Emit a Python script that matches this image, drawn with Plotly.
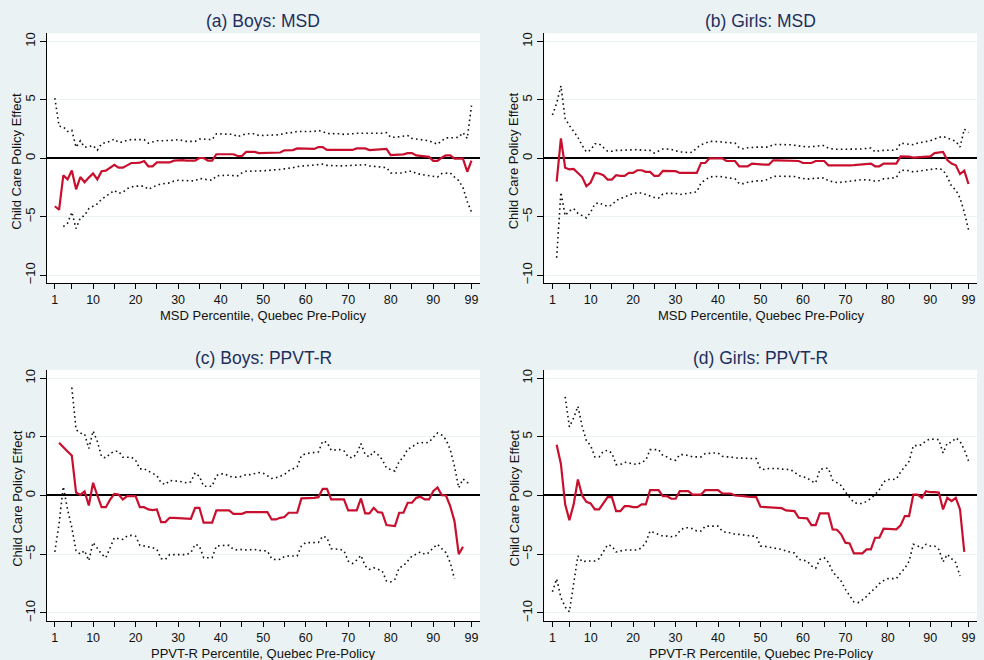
import plotly.graph_objects as go

# Percentile grid (Quebec pre-policy distribution)
PCT = list(range(1, 100))

# (a) Boys: MSD -- estimate, upper and lower confidence bounds
A_EST = [-4.1, -4.4, -1.45, -1.8, -1.05, -2.65, -1.6, -2.05, -1.65, -1.3,
         -1.8, -1.1, -1.05, -0.8, -0.55, -0.8, -0.8, -0.6, -0.4, -0.4,
         -0.37, -0.23, -0.68, -0.68, -0.35, -0.35, -0.35, -0.35, -0.2, -0.15,
         -0.15, -0.2, -0.2, -0.2, 0.03, 0.03, -0.2, -0.2, 0.35, 0.35,
         0.35, 0.35, 0.35, 0.2, 0.2, 0.55, 0.55, 0.55, 0.45, 0.45,
         0.45, 0.5, 0.5, 0.5, 0.68, 0.68, 0.7, 0.85, 0.85, 0.85,
         0.8, 0.8, 0.96, 0.96, 0.72, 0.72, 0.72, 0.72, 0.72, 0.72,
         0.72, 0.85, 0.85, 0.85, 0.7, 0.72, 0.75, 0.78, 0.8, 0.27,
         0.3, 0.32, 0.34, 0.45, 0.45, 0.25, 0.2, 0.15, 0.12, -0.22,
         -0.22, 0.05, 0.25, 0.25, -0.03, -0.03, -0.03, -1.15, -0.2]
A_HI = [5.15, 2.75, 2.7, 2.3, 2.4, 0.95, 1.5, 0.95, 1.0, 1.1,
        0.7, 1.25, 1.35, 1.45, 1.65, 1.35, 1.4, 1.55, 1.6, 1.6,
        1.65, 1.6, 1.3, 1.4, 1.5, 1.5, 1.5, 1.5, 1.55, 1.6,
        1.5, 1.45, 1.45, 1.45, 1.65, 1.65, 1.6, 1.6, 2.1, 2.1,
        2.1, 2.1, 2.05, 1.85, 1.95, 2.1, 2.1, 2.1, 1.95, 1.95,
        1.95, 2.0, 2.0, 2.05, 2.15, 2.2, 2.2, 2.3, 2.3, 2.3,
        2.25, 2.3, 2.38, 2.3, 2.12, 2.12, 2.1, 2.1, 2.05, 2.05,
        2.1, 2.15, 2.15, 2.15, 2.1, 2.15, 2.15, 2.15, 2.2, 1.8,
        1.8, 1.85, 1.9, 1.95, 1.7, 1.65, 1.6, 1.6, 1.5, 1.35,
        1.2, 1.5, 1.75, 1.75, 1.75, 1.8, 2.2, 1.7, 4.5]
A_LO = [None, None, -5.85, -5.55, -4.6, -6.0, -5.1, -4.9, -4.3, -4.1,
        -3.9, -3.5, -3.25, -2.95, -2.75, -3.0, -2.9, -2.6, -2.45, -2.38,
        -2.35, -2.38, -2.65, -2.45, -2.3, -2.2, -2.15, -2.1, -1.95, -1.87,
        -1.9, -1.93, -1.93, -1.93, -1.73, -1.75, -1.85, -1.87, -1.5, -1.45,
        -1.45, -1.45, -1.5, -1.5, -1.25, -1.1, -1.1, -1.1, -1.1, -1.1,
        -1.05, -1.0, -1.0, -0.95, -0.9, -0.88, -0.8, -0.7, -0.68, -0.65,
        -0.62, -0.58, -0.54, -0.5, -0.6, -0.62, -0.65, -0.65, -0.65, -0.62,
        -0.6, -0.55, -0.55, -0.55, -0.65, -0.7, -0.72, -0.75, -0.8, -1.25,
        -1.25, -1.25, -1.25, -1.1, -1.1, -1.3, -1.35, -1.45, -1.5, -1.55,
        -1.6, -1.3, -1.25, -1.25, -1.6, -1.9, -2.5, -3.7, -4.6]

# (b) Girls: MSD
B_EST = [None, -2.0, 1.7, -0.8, -0.95, -0.9, -1.25, -1.6, -2.38, -2.07,
         -1.25, -1.3, -1.45, -1.82, -1.82, -1.45, -1.5, -1.5, -1.25, -1.25,
         -1.02, -1.02, -1.16, -1.16, -1.5, -1.5, -1.08, -1.08, -1.1, -1.1,
         -1.25, -1.25, -1.25, -1.25, -1.25, -0.4, -0.4, 0.0, 0.0, 0.0,
         0.0, -0.23, -0.23, -0.23, -0.68, -0.68, -0.68, -0.45, -0.5, -0.5,
         -0.54, -0.54, -0.17, -0.17, -0.17, -0.2, -0.2, -0.23, -0.23, -0.4,
         -0.4, -0.4, -0.23, -0.23, -0.23, -0.6, -0.6, -0.62, -0.65, -0.65,
         -0.6, -0.58, -0.55, -0.5, -0.47, -0.45, -0.68, -0.68, -0.45, -0.45,
         -0.45, -0.45, 0.17, 0.17, 0.15, 0.06, 0.08, 0.15, 0.17, 0.17,
         0.45, 0.47, 0.55, -0.15, -0.45, -0.6, -1.35, -1.05, -2.2]
B_HI = [3.7, 4.7, 6.2, 3.4, 2.8, 2.3, 1.8, 1.1, 0.55, 0.7,
        1.25, 1.25, 0.95, 0.6, 0.6, 0.68, 0.68, 0.7, 0.75, 0.77,
        0.75, 0.7, 0.68, 0.68, 0.45, 0.65, 0.8, 0.8, 0.77, 0.65,
        0.55, 0.54, 0.48, 0.52, 0.9, 1.15, 1.3, 1.45, 1.45, 1.45,
        1.4, 1.35, 1.3, 1.3, 0.9, 0.82, 0.9, 0.96, 0.96, 0.96,
        0.96, 0.96, 1.19, 1.19, 1.22, 1.2, 1.16, 1.12, 1.08, 1.05,
        0.96, 1.0, 1.05, 1.1, 1.1, 0.85, 0.8, 0.77, 0.77, 0.77,
        0.77, 0.77, 0.77, 0.8, 0.85, 0.88, 0.55, 0.65, 0.68, 0.68,
        0.68, 0.7, 1.3, 1.27, 1.2, 1.16, 1.3, 1.35, 1.4, 1.5,
        1.65, 1.8, 1.87, 1.7, 1.6, 1.45, 0.96, 2.5, 2.2]
B_LO = [None, -8.5, -2.9, -4.9, -4.5, -4.3, -4.7, -4.9, -5.1, -4.6,
        -3.9, -3.8, -4.0, -4.1, -4.0, -3.6, -3.45, -3.3, -3.1, -3.0,
        -2.95, -2.97, -3.1, -3.25, -3.35, -3.4, -3.05, -3.0, -3.0, -3.0,
        -3.1, -3.05, -2.95, -2.92, -2.87, -2.1, -1.87, -1.6, -1.55, -1.53,
        -1.57, -1.65, -1.73, -1.75, -2.16, -2.16, -2.05, -1.98, -1.93, -1.93,
        -1.9, -1.75, -1.55, -1.53, -1.53, -1.53, -1.53, -1.55, -1.65, -1.75,
        -1.79, -1.73, -1.7, -1.67, -1.67, -1.93, -2.0, -2.07, -2.05, -2.01,
        -1.95, -1.9, -1.85, -1.82, -1.85, -1.87, -1.96, -1.9, -1.75, -1.73,
        -1.73, -1.65, -1.02, -1.02, -1.05, -1.16, -1.1, -1.02, -1.0, -0.96,
        -0.9, -0.88, -1.0, -1.6, -2.38, -2.7, -3.4, -4.6, -6.1]

# (c) Boys: PPVT-R
C_EST = [None, 4.5, 4.1, 3.75, 3.4, 0.25, 0.05, 0.35, -0.85, 1.08,
         0.0, -1.0, -1.0, -0.35, 0.14, 0.08, -0.34, -0.06, -0.06, -0.06,
         -1.0, -1.0, -1.19, -1.25, -1.19, -2.27, -2.27, -1.9, -1.9, -1.93,
         -1.98, -1.98, -1.98, -1.05, -1.05, -2.32, -2.32, -2.32, -1.27, -1.27,
         -1.27, -1.27, -1.56, -1.56, -1.56, -1.42, -1.42, -1.42, -1.42, -1.42,
         -1.42, -2.04, -2.04, -1.9, -1.84, -1.47, -1.47, -1.47, -0.25, -0.25,
         -0.25, -0.2, -0.14, 0.57, 0.57, -0.34, -0.34, -0.34, -0.34, -1.27,
         -1.27, -1.27, -0.25, -1.53, -1.53, -1.05, -1.42, -1.47, -2.52, -2.55,
         -2.61, -1.47, -1.47, -0.62, -0.62, -0.2, -0.11, -0.34, -0.34, 0.37,
         0.68, 0.03, 0.0, -0.91, -2.18, -5.0, -4.36, None, None]
C_HI = [None, None, None, None, 9.2, 5.6, 5.3, 5.25, 4.0, 5.5,
        4.6, 3.3, 3.2, 3.55, 3.77, 3.77, 3.26, 3.26, 3.26, 3.0,
        2.27, 2.27, 2.07, 1.93, 1.7, 1.08, 0.93, 1.27, 1.27, 1.22,
        1.16, 1.08, 1.16, 1.93, 1.64, 0.79, 0.79, 0.79, 1.7, 1.84,
        1.84, 1.64, 1.56, 1.56, 1.64, 1.78, 1.78, 1.87, 1.95, 1.9,
        1.7, 1.45, 1.5, 1.65, 1.78, 2.1, 2.3, 2.45, 3.4, 3.55,
        3.62, 3.65, 3.71, 4.62, 4.53, 3.85, 3.88, 3.91, 3.8, 3.29,
        3.2, 3.55, 4.42, 3.48, 3.29, 3.77, 3.48, 3.06, 2.35, 2.21,
        2.07, 2.92, 3.26, 3.96, 4.11, 4.42, 4.53, 4.47, 4.53, 4.95,
        5.32, 5.15, 4.76, 3.91, 2.49, 0.65, 1.4, 1.1, 1.05]
C_LO = [-4.8, -2.4, 0.75, -1.2, -2.75, -4.7, -5.0, -4.7, -5.55, -4.0,
        -4.5, -5.0, -5.3, -4.5, -3.6, -3.68, -3.74, -3.46, -3.4, -3.46,
        -4.25, -4.3, -4.36, -4.45, -4.59, -5.38, -5.44, -5.04, -5.04, -5.04,
        -5.04, -5.04, -4.87, -4.16, -4.3, -5.3, -5.3, -5.3, -4.3, -4.25,
        -4.25, -4.25, -4.59, -4.64, -4.6, -4.64, -4.6, -4.6, -4.67, -4.73,
        -4.73, -5.38, -5.49, -5.44, -5.2, -5.15, -5.15, -5.15, -4.3, -4.02,
        -4.02, -4.02, -4.0, -3.46, -3.6, -4.53, -4.56, -4.59, -4.7, -5.58,
        -5.8, -5.5, -5.1, -6.0, -6.29, -6.15, -6.29, -6.43, -7.28, -7.36,
        -7.14, -6.15, -6.0, -5.58, -5.15, -5.01, -4.81, -5.01, -4.87, -4.45,
        -4.16, -4.53, -4.87, -5.72, -7.1, None, None, None, None]

# (d) Girls: PPVT-R
D_EST = [None, 4.33, 2.69, -0.76, -2.1, -0.76, 1.36, 0.0, -0.54, -0.68,
         -1.19, -1.19, -0.62, -0.14, -0.14, -1.33, -1.33, -0.91, -0.91, -0.99,
         -0.99, -0.76, -0.76, 0.45, 0.45, 0.45, -0.06, -0.06, -0.28, -0.28,
         0.37, 0.37, 0.37, 0.08, 0.08, 0.08, 0.45, 0.45, 0.45, 0.45,
         0.17, 0.17, 0.17, 0.0, 0.0, -0.06, -0.11, -0.11, -0.14, -0.96,
         -0.99, -1.0, -1.05, -1.05, -1.08, -1.27, -1.3, -1.33, -1.9, -1.92,
         -1.95, -2.52, -2.52, -1.53, -1.53, -1.53, -2.89, -2.92, -3.31, -4.02,
         -4.08, -4.93, -4.93, -4.93, -4.59, -4.59, -3.6, -3.6, -2.83, -2.83,
         -2.86, -2.89, -2.55, -1.76, -1.76, 0.08, 0.08, -0.2, 0.37, 0.28,
         0.28, 0.25, -1.19, -0.2, -0.48, -0.2, -1.19, -4.81, None]
D_HI = [None, None, None, 8.4, 5.85, 6.6, 7.6, 5.9, 4.67, 4.25,
        3.29, 3.29, 3.77, 3.85, 3.62, 2.63, 2.63, 2.83, 2.78, 2.69,
        2.63, 2.83, 3.0, 3.91, 3.91, 3.91, 3.4, 3.29, 3.06, 3.0,
        3.48, 3.48, 3.4, 3.29, 3.29, 3.29, 3.57, 3.62, 3.62, 3.62,
        3.34, 3.29, 3.29, 3.2, 3.2, 3.14, 3.14, 3.14, 3.14, 2.27,
        2.21, 2.3, 2.32, 2.3, 2.25, 2.21, 2.21, 2.0, 1.7, 1.6,
        1.5, 1.22, 1.08, 2.21, 2.32, 2.32, 1.3, 1.1, 0.85, 0.3,
        -0.15, -0.6, -0.68, -0.68, -0.5, -0.25, 0.08, 0.5, 1.15, 1.36,
        1.36, 1.4, 2.0, 2.5, 2.9, 4.25, 4.25, 4.33, 4.67, 4.81,
        4.81, 4.76, 3.62, 4.47, 4.53, 4.9, 4.62, 3.91, 2.95]
D_LO = [-8.2, -7.1, -8.7, -9.5, -9.9, -7.4, -5.15, -5.65, -5.58, -5.58,
        -5.58, -5.38, -4.81, -4.2, -4.3, -4.81, -4.73, -4.64, -4.64, -4.64,
        -4.64, -4.45, -4.02, -3.03, -3.17, -3.31, -3.46, -3.46, -3.51, -3.46,
        -3.03, -2.75, -2.75, -2.83, -3.03, -3.03, -2.61, -2.61, -2.61, -2.61,
        -3.03, -3.17, -3.17, -3.31, -3.31, -3.37, -3.46, -3.46, -3.46, -4.3,
        -4.33, -4.4, -4.45, -4.5, -4.6, -4.73, -4.8, -4.9, -5.44, -5.5,
        -5.58, -6.0, -6.2, -5.44, -5.3, -5.7, -6.5, -6.9, -7.3, -8.0,
        -8.5, -9.06, -9.12, -8.9, -8.6, -8.2, -7.9, -7.5, -7.25, -7.08,
        -7.08, -7.08, -6.6, -6.2, -5.6, -4.16, -4.3, -4.5, -4.16, -4.3,
        -4.3, -4.59, -5.66, -5.01, -5.38, -5.72, -6.85, None, None]

PANEL_TITLES = ["(a) Boys: MSD", "(b) Girls: MSD", "(c) Boys: PPVT-R", "(d) Girls: PPVT-R"]
X_TITLES = ["MSD Percentile, Quebec Pre-Policy", "MSD Percentile, Quebec Pre-Policy",
            "PPVT-R Percentile, Quebec Pre-Policy", "PPVT-R Percentile, Quebec Pre-Policy"]
Y_TITLE = "Child Care Policy Effect"
X_TICKS = [1, 5, 10, 15, 20, 25, 30, 35, 40, 45, 50, 55, 60, 65, 70, 75, 80, 85, 90, 95, 99]
X_TICKTEXT = [str(v) if (v in (1, 99) or v % 10 == 0) else "" for v in X_TICKS]
Y_TICKS = [-10, -5, 0, 5, 10]

PANELS = [(A_EST, A_HI, A_LO), (B_EST, B_HI, B_LO), (C_EST, C_HI, C_LO), (D_EST, D_HI, D_LO)]

BG = "#EAF2F3"
RED = "#C8102E"
NAVY = "#1E2F5E"
FONT = "Liberation Sans, Arial, Helvetica, sans-serif"

# panel geometry in paper coordinates
XDOM = [[0.0475, 0.4878], [0.5532, 0.9929], [0.0475, 0.4878], [0.5532, 0.9929]]
YDOM = [[0.5708, 0.951], [0.5708, 0.951], [0.0576, 0.4394], [0.0576, 0.4394]]

fig = go.Figure()
layout = dict(
    width=984, height=660,
    margin=dict(l=0, r=0, t=0, b=0),
    paper_bgcolor=BG, plot_bgcolor="white",
    showlegend=False,
    font=dict(family=FONT, size=13, color="#111111"),
    annotations=[],
)

for i, (est, hi, lo) in enumerate(PANELS):
    n = "" if i == 0 else str(i + 1)
    xa, ya = "x" + n, "y" + n
    for ser in (hi, lo):
        fig.add_trace(go.Scatter(x=PCT, y=ser, xaxis=xa, yaxis=ya, mode="lines",
                                 line=dict(color="#111111", width=1.6, dash="1.6px,3.2px"),
                                 hoverinfo="skip"))
    fig.add_trace(go.Scatter(x=PCT, y=est, xaxis=xa, yaxis=ya, mode="lines",
                             line=dict(color=RED, width=2.2), hoverinfo="skip"))

    layout["xaxis" + n] = dict(
        domain=XDOM[i], anchor=ya, range=[-0.9, 101],
        tickvals=X_TICKS, ticktext=X_TICKTEXT, ticks="outside", ticklen=5,
        tickwidth=1, tickcolor="black", showline=True, linecolor="black", linewidth=1,
        showgrid=False, zeroline=False, tickfont=dict(size=12.5, color="#111111"),
    )
    layout["yaxis" + n] = dict(
        domain=YDOM[i], anchor=xa, range=[-10.7, 10.7],
        tickvals=Y_TICKS, ticks="outside", ticklen=6, tickwidth=1, tickcolor="black",
        tickangle=-90, showline=True, linecolor="black", linewidth=1,
        showgrid=True, gridcolor=BG, gridwidth=1,
        zeroline=True, zerolinecolor="black", zerolinewidth=1.6,
        tickfont=dict(size=13, color="#111111"),
    )

    xc = (XDOM[i][0] + XDOM[i][1]) / 2
    top = YDOM[i][1]
    bot = YDOM[i][0]
    layout["annotations"].append(dict(
        text=PANEL_TITLES[i], xref="paper", yref="paper", x=xc, y=top + 0.0187,
        xanchor="center", yanchor="middle", showarrow=False,
        font=dict(size=17.5, color=NAVY, family=FONT)))
    layout["annotations"].append(dict(
        text=X_TITLES[i], xref="paper", yref="paper", x=xc, y=bot - 0.0492,
        xanchor="center", yanchor="middle", showarrow=False,
        font=dict(size=13, color="#111111", family=FONT)))
    layout["annotations"].append(dict(
        text=Y_TITLE, xref="paper", yref="paper", x=XDOM[i][0] - 0.0305,
        y=(bot + top) / 2 - 0.004, xanchor="center", yanchor="middle",
        textangle=-90, showarrow=False,
        font=dict(size=13, color="#111111", family=FONT)))

fig.update_layout(**layout)
fig.write_html("out.html")
